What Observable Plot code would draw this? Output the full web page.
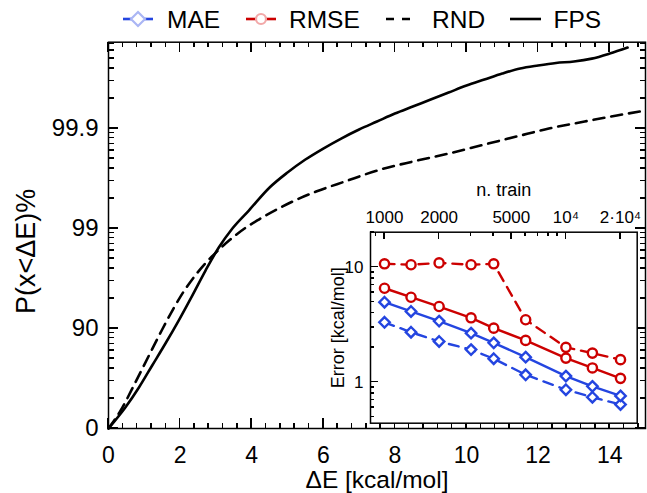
<!DOCTYPE html>
<html><head><meta charset="utf-8">
<script src="https://cdn.jsdelivr.net/npm/d3@7"></script>
<script src="https://cdn.jsdelivr.net/npm/@observablehq/plot@0.6"></script>
<style>
body{margin:0;background:#fff;}
#wrap{position:relative;width:647px;height:493px;overflow:hidden;font-family:"Liberation Sans",Arial,Helvetica,sans-serif;}
#legend{display:block;}
#inset{position:absolute;left:325px;top:175px;}
</style></head><body>
<div id="wrap">
<svg id="legend" width="647" height="34"></svg>
<div id="main"></div>
<div id="inset"></div>
</div>
<script>
// ---- main chart data: cumulative error distribution, P(x<ΔE) in %
const E_fps = [0, 0.47, 0.85, 1.22, 1.59, 1.96, 2.34, 2.71, 3.08, 3.46, 3.92, 4.5, 5.0, 5.5, 6.0, 6.5, 7.0, 7.5, 8.0, 8.5, 9.0, 9.5, 10.0, 10.5, 11.0, 11.5, 12.0, 12.5, 13.0, 13.5, 14.0, 14.5];
const P_fps = [0, 38.34, 61.10, 76.56, 85.87, 91.68, 95.32, 97.37, 98.45, 99.00, 99.339, 99.611, 99.7246, 99.7958, 99.8415, 99.8741, 99.8977, 99.9149, 99.9292, 99.9397, 99.9487, 99.9563, 99.9628, 99.9676, 99.9718, 99.9749, 99.9766, 99.9779, 99.9786, 99.9800, 99.9822, 99.9845];
const E_rnd = [0, 0.34, 0.75, 1.13, 1.5, 1.8, 2.1, 2.4, 2.7, 3.0, 3.4, 3.8, 4.2, 4.7, 5.2, 5.8, 6.6, 7.6, 8.5, 9.5, 10.5, 11.4, 12.3, 13.3, 14.2, 15.0];
const P_rnd = [0, 33.93, 65.33, 81.38, 89.77, 93.54, 95.73, 96.98, 97.76, 98.26, 98.71, 99.00, 99.187, 99.354, 99.475, 99.573, 99.661, 99.743, 99.786, 99.822, 99.8555, 99.8798, 99.9, 99.9149, 99.9259, 99.9339];
const E_domain = [0, 15];
const P_top = 99.9863;
const eTicks = [0, 2, 4, 6, 8, 10, 12, 14];
const pTicks = [0, 90, 99, 99.9];
const pTickLabels = ["0", "90", "99", "99.9"];
const xTitle = "ΔE [kcal/mol]";
const yTitle = "P(x<ΔE)%";

// ---- inset data: learning curves
const nTrain = [1000, 1400, 2000, 3000, 4000, 6000, 10000, 14000, 20000];
const maeFPS = [4.96, 4.12, 3.40, 2.67, 2.20, 1.65, 1.13, 0.92, 0.76];
const maeRND = [3.32, 2.72, 2.26, 1.92, 1.60, 1.16, 0.86, 0.74, 0.64];
const rmseFPS = [6.56, 5.48, 4.55, 3.63, 2.95, 2.31, 1.62, 1.33, 1.08];
const rmseRND = [10.7, 10.5, 10.9, 10.5, 10.7, 3.49, 2.01, 1.79, 1.57];
const nDomain = [837, 24720];
const errDomain = [0.44, 20.15];
const nTicks = [1000, 2000, 5000, 10000, 20000];
const nTickLabels = ["1000", "2000", "5000", "10⁴", "2·10⁴"];
const nMinor = [900, 3000, 4000, 6000, 7000, 8000, 9000];
const errTicks = [1, 10];
const errTickLabels = ["1", "10"];
const errMinor = [0.5, 0.6, 0.7, 0.8, 0.9, 2, 3, 4, 5, 6, 7, 8, 9, 20];
const insetXTitle = "n. train";
const insetYTitle = "Error [kcal/mol]";

const legendNames = ["MAE", "RMSE", "RND", "FPS"];

const RED = "#cc0000", BLUE = "#2445e0";
const FONT = '"Liberation Sans", Arial, Helvetica, sans-serif';

// ---- legend
(function(){
  const svg = d3.select("#legend");
  const y = 19, base = 27.5;
  const items = [
    {name: legendNames[0], x0: 123, x1: 153, tx: 167, color: BLUE, marker: "diamond"},
    {name: legendNames[1], x0: 246, x1: 276, tx: 289, color: RED, marker: "circle"},
    {name: legendNames[2], x0: 386, x1: 411, tx: 432, color: "#000", dash: "8,8"},
    {name: legendNames[3], x0: 510, x1: 541, tx: 553.5, color: "#000"}
  ];
  for (const it of items) {
    svg.append("line").attr("x1", it.x0).attr("x2", it.x1).attr("y1", y).attr("y2", y)
      .attr("stroke", it.color).attr("stroke-width", 2.6).attr("stroke-dasharray", it.dash || null);
    const cx = (it.x0 + it.x1) / 2;
    if (it.marker === "diamond") {
      svg.append("path").attr("d", `M${cx},${y-7}L${cx+7},${y}L${cx},${y+7}L${cx-7},${y}Z`)
        .attr("fill", "white").attr("stroke", "#aab6f4").attr("stroke-width", 2.2);
    } else if (it.marker === "circle") {
      svg.append("circle").attr("cx", cx).attr("cy", y).attr("r", 5)
        .attr("fill", "white").attr("stroke", "#f2a8a8").attr("stroke-width", 2.2);
    }
    svg.append("text").attr("x", it.tx).attr("y", base).attr("font-size", 24.5)
      .attr("font-family", FONT).attr("fill", "#000").text(it.name);
  }
})();

// inward ticks, placed with the plot's own scales
function addTicks(svgNode, dims, specs) {
  const g = d3.select(svgNode).append("g").attr("stroke", "#000").attr("stroke-width", 1.5)
    .attr("fill", "none").attr("shape-rendering", "crispEdges");
  const L = dims.l, R = dims.w - dims.r, T = dims.t, B = dims.h - dims.b;
  for (const s of specs) {
    const sc = svgNode.scale(s.axis);
    for (const v of s.values) {
      const p = sc.apply(v);
      if (s.side === "bottom") g.append("line").attr("x1", p).attr("x2", p).attr("y1", B).attr("y2", B - s.len);
      if (s.side === "top") g.append("line").attr("x1", p).attr("x2", p).attr("y1", T).attr("y2", T + s.len);
      if (s.side === "left") g.append("line").attr("y1", p).attr("y2", p).attr("x1", L).attr("x2", L + s.len);
      if (s.side === "right") g.append("line").attr("y1", p).attr("y2", p).attr("x1", R).attr("x2", R - s.len);
    }
  }
}

// ---- main chart
const M = {w: 647, h: 459, l: 108, r: 2, t: 7.7, b: 65};
const odds = p => 1 / (1 - p / 100);
const fps = E_fps.map((e, i) => ({e, y: odds(P_fps[i])}));
const rnd = E_rnd.map((e, i) => ({e, y: odds(P_rnd[i])}));
const yMajor = pTicks.map(odds);
const yLabel = new Map(yMajor.map((v, i) => [v, pTickLabels[i]]));
const yMax = odds(P_top);
const yMinor = [];
for (let e = 0; e < 4; e++) for (let k = 2; k <= 9; k++) { const v = k * 10 ** e; if (v < yMax) yMinor.push(v); }
const xMinor = d3.range(0, 38).filter(i => i % 5 !== 0).map(i => i * 0.4);

const main = Plot.plot({
  width: M.w, height: M.h,
  marginLeft: M.l, marginRight: M.r, marginTop: M.t, marginBottom: M.b,
  style: {fontFamily: FONT, background: "white", color: "#000"},
  x: {domain: E_domain, axis: null},
  y: {type: "log", domain: [1, yMax], axis: null},
  marks: [
    Plot.line(rnd, {x: "e", y: "y", stroke: "#000", strokeWidth: 2.6, strokeDasharray: "11,7", curve: "monotone-x"}),
    Plot.line(fps, {x: "e", y: "y", stroke: "#000", strokeWidth: 2.6, curve: "monotone-x"}),
    Plot.text(eTicks, {x: d => d, text: d => String(d), frameAnchor: "bottom", textAnchor: "middle", lineAnchor: "top", dy: 18, fontSize: 23}),
    Plot.text(yMajor, {y: d => d, text: d => yLabel.get(d), frameAnchor: "left", textAnchor: "end", lineAnchor: "middle", dx: -10, fontSize: 24}),
    Plot.text([xTitle], {text: d => d, frameAnchor: "bottom", textAnchor: "middle", lineAnchor: "top", dy: 42, fontSize: 24.5}),
    Plot.text([yTitle], {text: d => d, frameAnchor: "left", textAnchor: "middle", lineAnchor: "middle", rotate: -90, dx: -82, dy: 16, fontSize: 27}),
    Plot.frame({stroke: "#000", strokeWidth: 1.5})
  ]
});
document.getElementById("main").appendChild(main);
addTicks(main, M, [
  {axis: "x", values: eTicks, side: "bottom", len: 10},
  {axis: "x", values: xMinor, side: "bottom", len: 5.5},
  {axis: "x", values: eTicks, side: "top", len: 10},
  {axis: "x", values: xMinor, side: "top", len: 5.5},
  {axis: "y", values: yMajor, side: "left", len: 10},
  {axis: "y", values: yMinor, side: "left", len: 5.5},
  {axis: "y", values: yMajor, side: "right", len: 10},
  {axis: "y", values: yMinor, side: "right", len: 5.5}
]);

// ---- inset
const I = {w: 318, h: 252, l: 45, r: 6.3, t: 56.7, b: 4.3};
const rows = nTrain.map((n, i) => ({n, maeFPS: maeFPS[i], maeRND: maeRND[i], rmseFPS: rmseFPS[i], rmseRND: rmseRND[i]}));
const errLabel = new Map(errTicks.map((v, i) => [v, errTickLabels[i]]));
const nLabel = new Map(nTicks.map((v, i) => [v, nTickLabels[i]]));
const lw = 2.4;
const inset = Plot.plot({
  width: I.w, height: I.h,
  marginLeft: I.l, marginTop: I.t, marginRight: I.r, marginBottom: I.b,
  style: {fontFamily: FONT, background: "transparent", color: "#000", overflow: "visible"},
  x: {type: "log", domain: nDomain, axis: null},
  y: {type: "log", domain: errDomain, axis: null},
  marks: [
    Plot.frame({fill: "white", stroke: null}),
    Plot.line(rows, {x: "n", y: "maeRND", stroke: BLUE, strokeWidth: lw, strokeDasharray: "10,7"}),
    Plot.line(rows, {x: "n", y: "maeFPS", stroke: BLUE, strokeWidth: lw}),
    Plot.line(rows, {x: "n", y: "rmseRND", stroke: RED, strokeWidth: lw, strokeDasharray: "10,7"}),
    Plot.line(rows, {x: "n", y: "rmseFPS", stroke: RED, strokeWidth: lw}),
    Plot.dot(rows, {x: "n", y: "maeRND", symbol: "diamond2", r: 4.7, stroke: BLUE, fill: "white", strokeWidth: lw}),
    Plot.dot(rows, {x: "n", y: "maeFPS", symbol: "diamond2", r: 4.7, stroke: BLUE, fill: "white", strokeWidth: lw}),
    Plot.dot(rows, {x: "n", y: "rmseRND", symbol: "circle", r: 4.6, stroke: RED, fill: "white", strokeWidth: lw}),
    Plot.dot(rows, {x: "n", y: "rmseFPS", symbol: "circle", r: 4.6, stroke: RED, fill: "white", strokeWidth: lw}),
    Plot.text(nTicks, {x: d => d, text: d => nLabel.get(d), frameAnchor: "top", textAnchor: "middle", lineAnchor: "bottom", dy: -9, fontSize: 17}),
    Plot.text(errTicks, {y: d => d, text: d => errLabel.get(d), frameAnchor: "left", textAnchor: "end", lineAnchor: "middle", dx: -7, fontSize: 17}),
    Plot.text([insetXTitle], {text: d => d, frameAnchor: "top", textAnchor: "middle", lineAnchor: "middle", dy: -41.7, fontSize: 18}),
    Plot.text([insetYTitle], {text: d => d, frameAnchor: "left", textAnchor: "middle", lineAnchor: "middle", rotate: -90, dx: -32, fontSize: 18}),
    Plot.frame({stroke: "#000", strokeWidth: 1.5})
  ]
});
document.getElementById("inset").appendChild(inset);
addTicks(inset, I, [
  {axis: "x", values: nTicks, side: "top", len: 7},
  {axis: "x", values: nMinor, side: "top", len: 4},
  {axis: "y", values: errTicks, side: "left", len: 8},
  {axis: "y", values: errMinor, side: "left", len: 4}
]);
</script>
</body></html>
